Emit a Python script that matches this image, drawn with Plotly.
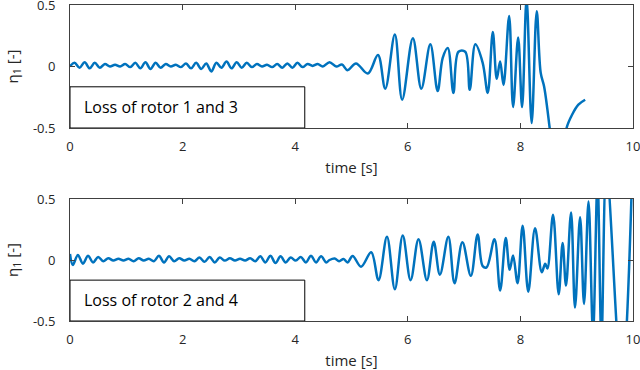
import plotly.graph_objects as go

# ---------------- data ----------------
top_t = [0.00, 0.08, 0.17, 0.26, 0.35, 0.44, 0.53, 0.62, 0.71, 0.80, 0.89, 0.98, 1.07, 1.16,
         1.25, 1.34, 1.43, 1.52, 1.61, 1.70, 1.79, 1.88, 1.97, 2.06, 2.15, 2.24, 2.33, 2.42,
         2.51, 2.60, 2.69, 2.78, 2.87, 2.96, 3.05, 3.14, 3.23, 3.32, 3.41, 3.50, 3.59, 3.68,
         3.77, 3.86, 3.95, 4.04, 4.13, 4.22, 4.31, 4.40, 4.49,
         4.61, 4.73, 4.83, 4.93, 5.08, 5.29, 5.47, 5.60, 5.77, 5.90, 6.09, 6.24, 6.40, 6.53,
         6.62, 6.71, 6.81, 6.90, 7.02, 7.10, 7.20, 7.33, 7.42, 7.51, 7.58, 7.64, 7.70, 7.80,
         7.87, 7.96, 8.03, 8.11, 8.20, 8.29, 8.36, 8.42, 8.48, 8.52, 8.60, 8.70, 8.78, 8.82,
         8.92, 9.03, 9.15]
top_eta = [0.00, 0.030, -0.010, 0.035, -0.015, 0.030, -0.010, 0.020, 0.000, 0.015, 0.000, 0.020,
           -0.005, 0.030, -0.015, 0.035, -0.020, 0.030, -0.010, 0.020, 0.000, 0.015, -0.005,
           0.025, -0.015, 0.030, -0.020, 0.025, -0.040, 0.030, -0.010, 0.040, -0.015, 0.035,
           -0.010, 0.030, -0.005, 0.020, 0.000, 0.015, -0.005, 0.020, -0.010, 0.025, -0.010,
           0.030, -0.005, 0.020, 0.005, 0.020, 0.000,
           0.035, 0.000, 0.016, -0.030, 0.025, -0.057, 0.093, -0.18, 0.26, -0.27, 0.23, -0.18,
           0.18, -0.20, 0.07, 0.15, -0.215, 0.12, 0.12, -0.19, 0.18, 0.03, -0.215, 0.28, -0.10,
           0.04, -0.15, 0.41, -0.33, 0.235, -0.33, 0.55, -0.46, 0.45, -0.05, -0.16, -0.35,
           -0.50, -0.75, -0.85, -0.65, -0.50, -0.39, -0.31, -0.27]

bot_t = [0.00, 0.05, 0.14, 0.23, 0.32, 0.41, 0.50, 0.59, 0.68, 0.77, 0.86, 0.95, 1.04, 1.13,
         1.22, 1.31, 1.40, 1.49, 1.58, 1.67, 1.76, 1.85, 1.94, 2.03, 2.12, 2.21, 2.30, 2.39,
         2.48, 2.57, 2.66, 2.75, 2.84, 2.93, 3.02, 3.11, 3.20, 3.29, 3.38, 3.47, 3.56, 3.65,
         3.74, 3.83, 3.92, 4.01, 4.10, 4.19, 4.28, 4.37, 4.46, 4.55,
         4.61, 4.70, 4.78, 4.86, 4.93, 5.02, 5.17, 5.35, 5.48, 5.63, 5.77, 5.91, 6.05, 6.19,
         6.34, 6.46, 6.57, 6.72, 6.83, 6.97, 7.12, 7.24, 7.33, 7.40, 7.54, 7.64, 7.74, 7.81,
         7.87, 7.95, 8.04, 8.14, 8.26, 8.38, 8.44, 8.48, 8.58, 8.68, 8.75, 8.81, 8.90, 8.97,
         9.06, 9.13, 9.21, 9.29, 9.37, 9.44, 9.53, 9.80, 10.00]
bot_eta = [0.050, -0.040, 0.040, -0.030, 0.035, -0.020, 0.025, -0.010, 0.015, -0.005, 0.010,
           -0.005, 0.010, -0.010, 0.015, -0.005, 0.010, -0.010, 0.035, -0.020, 0.030, -0.010,
           0.015, -0.005, 0.010, -0.010, 0.020, -0.015, 0.025, -0.020, 0.020, -0.005, 0.015,
           -0.005, 0.010, -0.005, 0.015, -0.010, 0.030, -0.020, 0.035, -0.025, 0.030, -0.020,
           0.020, -0.005, 0.025, -0.020, 0.035, -0.020, 0.030, -0.020,
           0.000, 0.012, -0.010, 0.008, -0.020, 0.033, -0.055, 0.063, -0.165, 0.19, -0.24, 0.20,
           -0.165, 0.17, -0.165, 0.15, -0.12, 0.19, -0.19, 0.146, -0.13, 0.21, -0.05, -0.06,
           0.17, -0.25, 0.18, -0.08, 0.036, -0.19, 0.28, -0.26, 0.26, -0.10, -0.03, -0.07, 0.37,
           -0.28, 0.14, -0.21, 0.39, -0.39, 0.35, -0.36, 0.48, -0.60, 0.65, -0.65, 0.75, -1.00,
           0.95]

x_ticks = [0, 2, 4, 6, 8, 10]
y_ticks = [-0.5, 0, 0.5]
y_tick_text = ["-0.5", "0", "0.5"]
labels = ["Loss of rotor 1 and 3", "Loss of rotor 2 and 4"]

# ---------------- figure ----------------
W, H = 640, 370
LINE = "#0072BD"
AX = "#404040"
TXT = "#262626"
FONT = "Open Sans"

ML, MR, MT, MB = 70, 7, 5, 49
PH = H - MT - MB

fig = go.Figure()
fig.add_trace(go.Scatter(x=top_t, y=top_eta, mode="lines", xaxis="x", yaxis="y",
                         line=dict(color=LINE, width=2.5, shape="spline", smoothing=1.0),
                         showlegend=False))
fig.add_trace(go.Scatter(x=bot_t, y=bot_eta, mode="lines", xaxis="x2", yaxis="y2",
                         line=dict(color=LINE, width=2.5, shape="spline", smoothing=1.0),
                         showlegend=False))

top_dom = [1 - (128 - MT) / PH, 1.0]
bot_dom = [0.0, 1 - (199 - MT) / PH]

def xax(anchor):
    return dict(domain=[0, 1], anchor=anchor, range=[0, 10], tickvals=x_ticks,
                ticks="inside", ticklen=5, tickcolor=AX, showline=True, linecolor=AX,
                linewidth=1, mirror="ticks", showgrid=False, zeroline=False,
                automargin=False, ticklabeloverflow="allow", ticklabelstandoff=6,
                tickfont=dict(family=FONT, size=13, color=TXT),
                title=dict(text="time [s]", font=dict(family=FONT, size=15, color=TXT),
                           standoff=8))

def yax(anchor, dom):
    return dict(domain=dom, anchor=anchor, range=[-0.5, 0.5], tickvals=y_ticks,
                ticktext=y_tick_text, ticks="inside", ticklen=5, tickcolor=AX,
                showline=True, linecolor=AX, linewidth=1, mirror="ticks", showgrid=False,
                zeroline=False, ticklabelstandoff=11, automargin=False,
                ticklabeloverflow="allow",
                tickfont=dict(family=FONT, size=13, color=TXT),
                title=dict(text="\u03b7<sub>1</sub> [-]",
                           font=dict(family=FONT, size=15, color=TXT), standoff=10))

fig.update_layout(
    width=W, height=H, margin=dict(l=ML, r=MR, t=MT, b=MB),
    paper_bgcolor="white", plot_bgcolor="white",
    xaxis=xax("y"), yaxis=yax("x", top_dom),
    xaxis2=xax("y2"), yaxis2=yax("x2", bot_dom),
)

for xr, yr, lab in [("x", "y", labels[0]), ("x2", "y2", labels[1])]:
    fig.add_shape(type="rect", xref=xr, yref=yr, x0=0, x1=4.17, y0=-0.5, y1=-0.165,
                  fillcolor="white", line=dict(color="black", width=1), layer="above")
    fig.add_annotation(xref=xr, yref=yr, x=0.22, y=-0.33, text=lab, showarrow=False,
                       xanchor="left", yanchor="middle",
                       font=dict(family=FONT, size=16, color="black"))

fig.write_html("out.html", config={"displayModeBar": False},
               post_script="document.body.style.margin='0';document.body.style.overflow='hidden';")
